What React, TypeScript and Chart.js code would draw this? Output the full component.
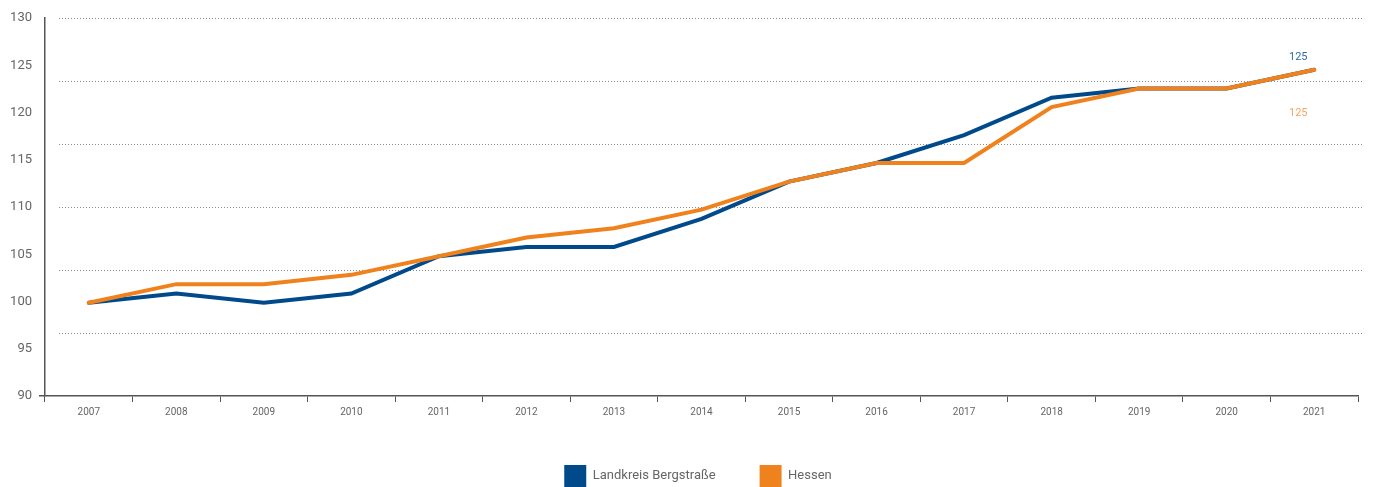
import React, { useEffect, useRef } from 'react';
import { Chart, registerables } from 'chart.js';

Chart.register(...registerables);

const years = ['2007', '2008', '2009', '2010', '2011', '2012', '2013', '2014', '2015', '2016', '2017', '2018', '2019', '2020', '2021'];
const bergstrasse = [100, 101, 100, 101, 105, 106, 106, 109, 113, 115, 118, 122, 123, 123, 125];
const hessen = [100, 102, 102, 103, 105, 107, 108, 110, 113, 115, 115, 121, 123, 123, 125];
const yTickValues = [90, 95, 100, 105, 110, 115, 120, 125, 130];
const gridSteps = [0, 1, 2, 3, 4, 5, 6];
const endLabels = ['125', '125'];
const seriesNames = ['Landkreis Bergstraße', 'Hessen'];

const BLUE = '#004a8c';
const ORANGE = '#f0821e';
const LEGEND_SHIFT = 19;

const dottedGrid = {
  id: 'dottedGrid',
  beforeDatasetsDraw(chart: any) {
    const s = chart.scales.yGrid;
    const { left, right } = chart.chartArea;
    const ctx = chart.ctx;
    ctx.save();
    ctx.strokeStyle = '#8a8a8a';
    ctx.lineWidth = 1;
    ctx.setLineDash([1, 2]);
    gridSteps.forEach((v) => {
      if (v === 0) return;
      const y = Math.round(s.getPixelForValue(v)) + 0.5;
      ctx.beginPath();
      ctx.moveTo(left + 14, y);
      ctx.lineTo(right + 4, y);
      ctx.stroke();
    });
    ctx.restore();
  },
};

const endLabelPlugin = {
  id: 'endLabels',
  afterDatasetsDraw(chart: any) {
    const ctx = chart.ctx;
    const offsets = [-13, 43];
    const colors = ['#2f6aa6', '#f6a560'];
    ctx.save();
    ctx.font = '11px Roboto';
    ctx.textAlign = 'center';
    ctx.textBaseline = 'middle';
    chart.data.datasets.forEach((_: any, i: number) => {
      const meta = chart.getDatasetMeta(i);
      const pt = meta.data[meta.data.length - 1];
      if (!pt) return;
      ctx.fillStyle = colors[i];
      ctx.fillText(endLabels[i], pt.x - 16, pt.y + offsets[i]);
    });
    ctx.restore();
  },
};

const legendShift = {
  id: 'legendShift',
  afterLayout(chart: any) {
    if (chart.legend) {
      chart.legend.left += LEGEND_SHIFT;
      chart.legend.right += LEGEND_SHIFT;
    }
  },
};

export default function App() {
  const ref = useRef<HTMLCanvasElement | null>(null);

  useEffect(() => {
    if (!ref.current) return;
    const chart = new Chart(ref.current, {
      type: 'line',
      data: {
        labels: years,
        datasets: [
          {
            label: seriesNames[0],
            data: bergstrasse,
            borderColor: BLUE,
            backgroundColor: BLUE,
            borderWidth: 4,
            pointRadius: 0,
            tension: 0,
            yAxisID: 'yData',
            order: 2,
            borderCapStyle: 'round',
          },
          {
            label: seriesNames[1],
            data: hessen,
            borderColor: ORANGE,
            backgroundColor: ORANGE,
            borderWidth: 4,
            pointRadius: 0,
            tension: 0,
            yAxisID: 'yData',
            order: 1,
            borderCapStyle: 'round',
          },
        ],
      },
      options: {
        responsive: false,
        animation: false,
        layout: { padding: { top: 18, left: 0, right: 15, bottom: 0 } },
        plugins: {
          tooltip: { enabled: false },
          legend: {
            position: 'bottom',
            labels: {
              boxWidth: 22,
              boxHeight: 22,
              padding: 44,
              color: '#666',
              font: { family: 'Roboto', size: 13 },
              generateLabels: (chart: any) =>
                chart.data.datasets.map((ds: any, i: number) => ({
                  text: ds.label,
                  fillStyle: ds.borderColor,
                  strokeStyle: ds.borderColor,
                  lineWidth: 0,
                  datasetIndex: i,
                  hidden: false,
                  fontColor: '#666',
                })),
            },
          },
        },
        scales: {
          x: {
            offset: true,
            grid: { offset: true, drawOnChartArea: false, tickLength: 6, color: '#555', lineWidth: 1 },
            border: { color: '#555', width: 1.5 },
            ticks: { color: '#666', font: { family: 'Roboto', size: 10 }, padding: 4, maxRotation: 0, autoSkip: false },
            afterFit: (s: any) => { s.height = 25; },
          },
          y: {
            position: 'left',
            min: 90,
            max: 130,
            afterBuildTicks: (s: any) => { s.ticks = yTickValues.map((v) => ({ value: v })); },
            ticks: { color: '#666', font: { family: 'Roboto', size: 13 }, padding: 7 },
            grid: {
              drawOnChartArea: false,
              tickLength: 6,
              lineWidth: 1.5,
              tickColor: (c: any) => (c.index === 0 ? '#555' : 'rgba(0,0,0,0)'),
            },
            border: { color: '#555', width: 1.5 },
            afterFit: (s: any) => { s.width = 45; },
          },
          yData: { display: false, min: 90, max: 130.56 },
          yGrid: { display: false, min: 0, max: 6 },
        },
      },
      plugins: [dottedGrid, endLabelPlugin, legendShift],
    });
    return () => chart.destroy();
  }, []);

  return (
    <div style={{ position: 'fixed', left: 0, top: 0, width: 1373, height: 487, overflow: 'hidden', background: '#fff' }}>
      <canvas ref={ref} width={1373} height={497} style={{ width: 1373, height: 497, display: 'block' }} />
    </div>
  );
}
